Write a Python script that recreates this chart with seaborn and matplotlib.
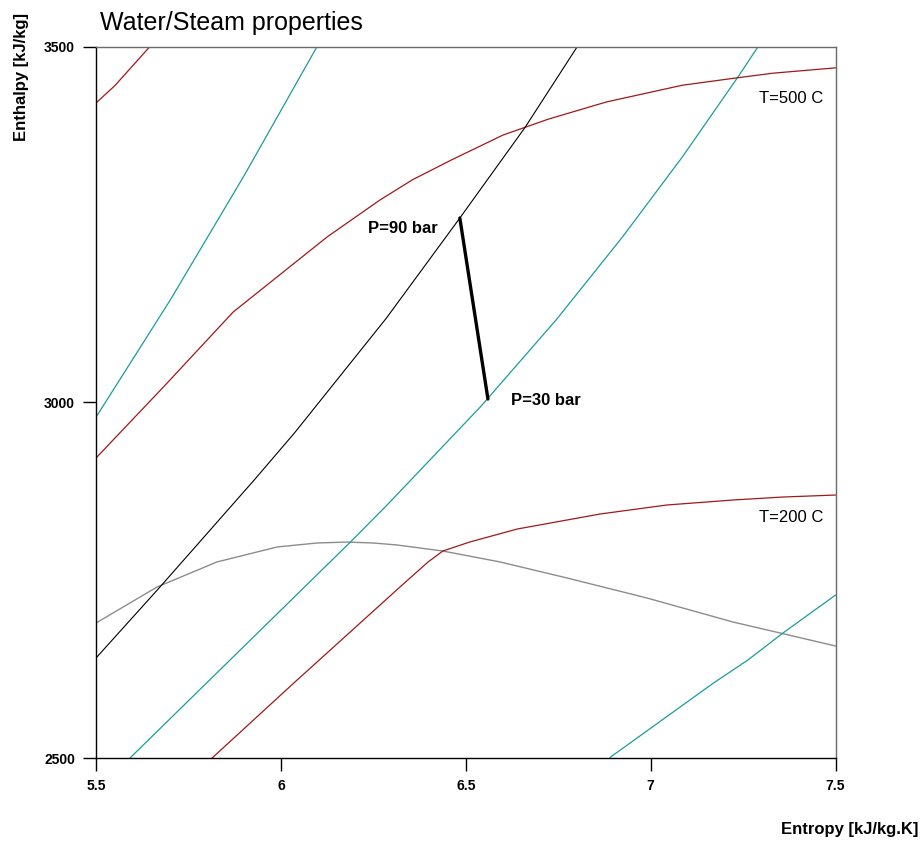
import matplotlib
matplotlib.use("Agg")
import matplotlib.pyplot as plt
import seaborn as sns

# Saturated vapour line (entropy kJ/kg.K, enthalpy kJ/kg)
sat_vapor_s = [5.5, 5.665, 5.827, 5.881, 5.990, 6.098, 6.18, 6.249, 6.314, 6.438,
               6.593, 6.774, 6.990, 7.223, 7.350, 7.5]
sat_vapor_h = [2689.7, 2740.3, 2775.5, 2782.5, 2796.6, 2802.2, 2803.5, 2802.2, 2799.4,
               2790.9, 2775.5, 2753.0, 2724.9, 2691.1, 2675.7, 2657.4]

# Isobars
p_high_s = [5.5, 5.7, 5.9, 6.098]
p_high_h = [2979, 3143, 3318, 3500]

p90_s = [5.5, 5.673, 5.93, 6.037, 6.285, 6.484, 6.66, 6.801]
p90_h = [2640.5, 2740.3, 2892, 2957, 3118, 3258.9, 3386, 3499.3]

p30_s = [5.592, 6.187, 6.289, 6.541, 6.745, 6.923, 7.086, 7.236, 7.29]
p30_h = [2500, 2803, 2856.5, 2994.3, 3116.1, 3231.7, 3344.9, 3457, 3499.3]

p1_s = [6.890, 7.169, 7.263, 7.358, 7.5]
p1_h = [2500.7, 2605, 2637.7, 2675.7, 2729]

# Isotherms
t_high_s = [5.5, 5.551, 5.646]
t_high_h = [3420.6, 3445, 3500]

t500_s = [5.5, 5.687, 5.871, 6.125, 6.268, 6.357, 6.463, 6.601, 6.724, 6.88, 7.085,
          7.234, 7.331, 7.5]
t500_h = [2921.6, 3024, 3126.8, 3232.3, 3284.3, 3313, 3341, 3375.6, 3398, 3422, 3445.5,
          3456, 3462.5, 3470]

t200_s = [5.814, 6.038, 6.322, 6.398, 6.438, 6.511, 6.639, 6.863, 7.044, 7.223, 7.358, 7.5]
t200_h = [2500, 2606.8, 2740.3, 2775.5, 2790.9, 2803.6, 2821.8, 2842.9, 2855.6, 2862.6,
          2866.8, 2869.6]

# Turbine expansion 90 bar -> 30 bar
expansion_s = [6.484, 6.560]
expansion_h = [3258.9, 3004.6]

x_ticks = [5.5, 6, 6.5, 7, 7.5]
x_tick_labels = ["5.5", "6", "6.5", "7", "7.5"]
y_ticks = [2500, 3000, 3500]
y_tick_labels = ["2500", "3000", "3500"]

sns.set_theme(style="white")
plt.rcParams["font.family"] = ["Liberation Sans", "DejaVu Sans"]
plt.rcParams["text.color"] = "black"
plt.rcParams["axes.labelcolor"] = "black"
plt.rcParams["xtick.color"] = "black"
plt.rcParams["ytick.color"] = "black"

RED = "#a01818"
TEAL = "#1a9c9c"
GRAY = "#8c8c8c"

fig = plt.figure(figsize=(9.22, 8.41), dpi=100)
ax = fig.add_axes([96 / 922, 1 - 758 / 841, 739.5 / 922, 711.5 / 841])

def curve(s, h, color, lw=0.9):
    sns.lineplot(x=s, y=h, color=color, linewidth=lw, sort=False, estimator=None,
                 legend=False, ax=ax)

curve(sat_vapor_s, sat_vapor_h, GRAY, 1.0)
curve(p_high_s, p_high_h, TEAL)
curve(p30_s, p30_h, TEAL)
curve(p1_s, p1_h, TEAL)
curve(t_high_s, t_high_h, RED)
curve(t500_s, t500_h, RED)
curve(t200_s, t200_h, RED)
curve(p90_s, p90_h, "black", 0.8)
curve(expansion_s, expansion_h, "black", 2.4)

ax.set_xlim(5.5, 7.5)
ax.set_ylim(2500, 3500)
ax.set_xticks(x_ticks)
ax.set_xticklabels(x_tick_labels)
ax.set_yticks(y_ticks)
ax.set_yticklabels(y_tick_labels)
ax.tick_params(axis="both", direction="out", length=9.5, width=1.0, color="black",
               labelcolor="black", labelsize=10, pad=5.5, bottom=True, left=True)
for lab in ax.get_xticklabels() + ax.get_yticklabels():
    lab.set_fontweight("bold")

for side in ["left", "bottom"]:
    ax.spines[side].set_color("black")
    ax.spines[side].set_linewidth(1.0)
for side in ["top", "right"]:
    ax.spines[side].set_color("#6a6a6a")
    ax.spines[side].set_linewidth(1.0)

ax.set_xlabel("Entropy [kJ/kg.K]", fontsize=12, fontweight="bold", ha="right",
              color="black")
ax.xaxis.set_label_coords(1.1116, -0.090)
ax.set_ylabel("Enthalpy [kJ/kg]", fontsize=12, fontweight="bold", color="black")
ax.yaxis.set_label_coords(-0.0906, 0.957)

ax.set_title("Water/Steam properties", loc="left", fontsize=18, pad=12, x=0.005,
             color="black")

ax.text(6.425, 3243.5, "P=90 bar", fontsize=12, fontweight="bold", ha="right",
        va="center", color="black")
ax.text(6.622, 3001.8, "P=30 bar", fontsize=12, fontweight="bold", ha="left",
        va="center", color="black")
ax.text(7.466, 3427.6, "T=500 C", fontsize=12, ha="right", va="center", color="black")
ax.text(7.466, 2838.7, "T=200 C", fontsize=12, ha="right", va="center", color="black")

fig.savefig("out.png", dpi=100)
